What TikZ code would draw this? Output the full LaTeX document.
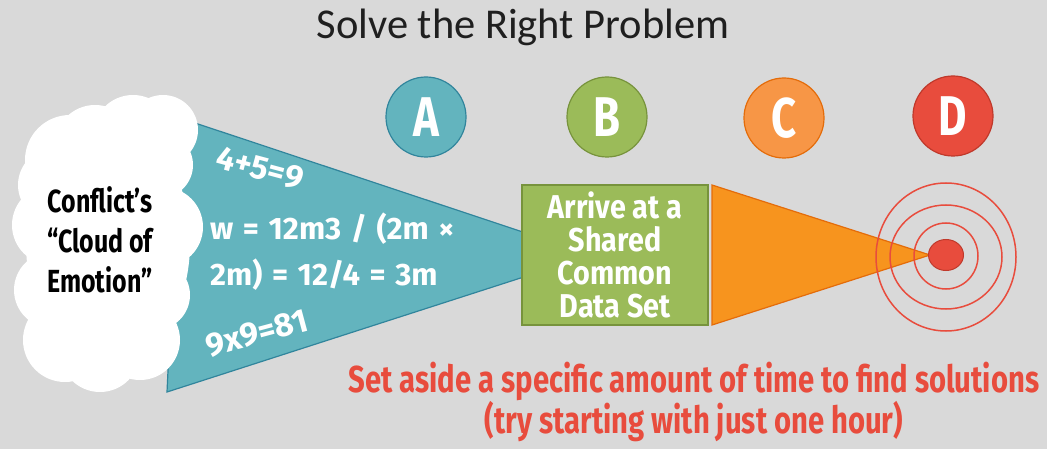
\documentclass[tikz,border=0pt]{standalone}
\usepackage{fontspec}
\usetikzlibrary{shapes.geometric}
\setmainfont{Carlito}
\newfontfamily\cond{Fira Sans}[FakeStretch=0.78]
\newfontfamily\condm{Fira Sans}[FakeStretch=0.87]
\newfontfamily\condw{Fira Sans}[WordSpace=1.3]
\definecolor{bg}{HTML}{D9D9D9}
\definecolor{tealF}{HTML}{63B4BE}
\definecolor{tealD}{HTML}{31859C}
\definecolor{greenF}{HTML}{9BBB59}
\definecolor{greenD}{HTML}{77933C}
\definecolor{orangeC}{HTML}{F79646}
\definecolor{orangeT}{HTML}{F7941E}
\definecolor{orangeD}{HTML}{E46C0A}
\definecolor{redF}{HTML}{E84C3D}
\definecolor{redD}{HTML}{C0392B}
\tikzset{
  badge/.style={circle, minimum size=80pt, inner sep=0pt, line width=1.2pt,
    text=white, font=\cond\bfseries\fontsize{56}{56}\selectfont},
  whitetext/.style={text=white, font=\condw\bfseries\fontsize{31}{46}\selectfont, inner sep=0pt},
  mathtilt/.style={text=white, font=\condw\bfseries\fontsize{33}{33}\selectfont, inner sep=0pt},
  ring/.style={draw=redF, line width=1.5pt},
}
\begin{document}
\begin{tikzpicture}[x=1pt,y=-1pt]
\fill[bg] (0,0) rectangle (1047,449);
\useasboundingbox (0,0) rectangle (1047,449);

% title
\node[font=\fontsize{42.5}{50}\selectfont, text=black!88] (title) at (523,27) {Solve the Right Problem};

% teal funnel
\coordinate (tTL) at (180,118);
\coordinate (tBL) at (167,392);
\coordinate (tTip) at (592,255);
\filldraw[fill=tealF, draw=tealD, line width=1.2pt] (tTL) -- (tTip) -- (tBL) -- cycle;

% cloud
\fill[white]
  (108,243) ellipse [x radius=82, y radius=122]
  (70,160) circle [radius=45]
  (95,145) circle [radius=40]
  (133,135) circle [radius=40]
  (163,130) circle [radius=35]
  (160,165) circle [radius=33]
  (163,227) circle [radius=40]
  (155,295) circle [radius=35]
  (140,340) circle [radius=40]
  (100,352) circle [radius=40]
  (65,340) circle [radius=42]
  (52,290) circle [radius=38]
  (52,225) circle [radius=40]
  (55,185) circle [radius=37];
\node[align=center, text=black, font=\cond\bfseries\fontsize{32}{40}\selectfont, inner sep=0pt] (cloudtxt) at (100,240)
  {Conflict’s\\“Cloud of\\Emotion”};

% teal texts
\node[mathtilt, rotate=-15] (eq1) at (260,168) {4+5=9};
\node[whitetext, align=left, anchor=west] (eq2) at (210,252) {w = 12m3 / (2m ×\\2m) = 12/4 = 3m};
\node[mathtilt, rotate=15] (eq3) at (257,333) {9x9=81};

% orange funnel
\coordinate (oT) at (712,185);
\coordinate (oB) at (712,325);
\coordinate (oTip) at (930,255);
\filldraw[fill=orangeT, draw=orangeD, line width=1.2pt] (oT) -- (oTip) -- (oB) -- cycle;

% green box
\node[draw=greenD, fill=greenF, line width=1.2pt, minimum width=186pt, minimum height=140pt,
  inner sep=0pt, align=center, text=white, font=\condm\bfseries\fontsize{33}{33}\selectfont] (box) at (615,255)
  {Arrive at a\\Shared\\Common\\Data Set};

% target
\draw[ring] (946,257) ellipse [x radius=70, y radius=74];
\draw[ring] (946,257) ellipse [x radius=56, y radius=52];
\draw[ring] (946,256) ellipse [x radius=32, y radius=33];
\node[ellipse, fill=redF, draw=redD, line width=1pt, minimum width=35pt, minimum height=31pt, inner sep=0pt] (dot) at (946,255) {};

% badges
\node[badge, fill=tealF, draw=tealD] (A) at (426,117) {A};
\node[badge, fill=greenF, draw=greenD] (B) at (607,117) {B};
\node[badge, fill=orangeC, draw=orangeD] (C) at (784,118) {C};
\node[badge, fill=redF, draw=redD] (D) at (953,116) {D};

% bottom text
\node[align=center, text=redF, font=\cond\bfseries\fontsize{37.5}{40}\selectfont, inner sep=0pt] (note) at (694,402)
  {Set aside a specific amount of time to find solutions\\(try starting with just one hour)};
\end{tikzpicture}
\end{document}
